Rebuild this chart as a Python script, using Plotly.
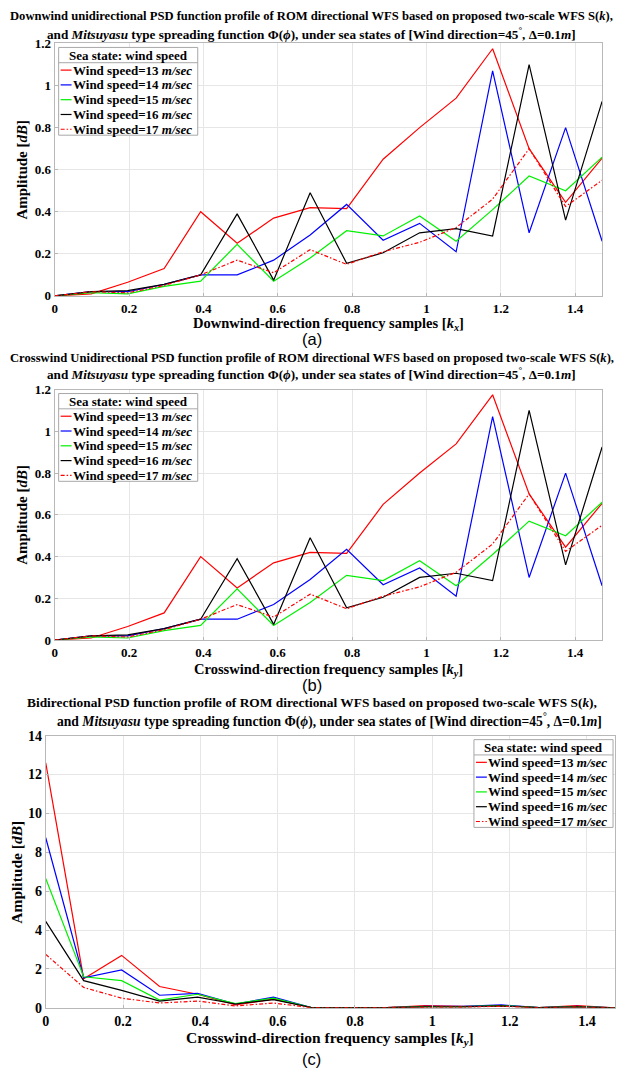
import numpy as np
import plotly.graph_objects as go

W, H = 619, 1077

# Frequency samples k = n*pi/32, n = 0..15
k = [n * np.pi / 32 for n in range(16)]

speeds = ["13", "14", "15", "16", "17"]
colors = ["#ff0000", "#0000ff", "#00f000", "#000000", "#ff0000"]
dashes = ["solid", "solid", "solid", "solid", "4px,2px,1.5px,2px"]

# Unidirectional PSD (downwind and crosswind profiles share the same values)
uni_13 = [0, 0.01, 0.065, 0.13, 0.40, 0.25, 0.37, 0.42, 0.415, 0.65, 0.80, 0.94, 1.175, 0.70, 0.445, 0.655]
uni_14 = [0, 0.02, 0.02, 0.055, 0.10, 0.10, 0.17, 0.29, 0.435, 0.265, 0.345, 0.21, 1.07, 0.30, 0.80, 0.26]
uni_15 = [0, 0.015, 0.01, 0.045, 0.07, 0.245, 0.07, 0.18, 0.31, 0.285, 0.38, 0.26, 0.41, 0.57, 0.50, 0.66]
uni_16 = [0, 0.02, 0.025, 0.055, 0.10, 0.39, 0.075, 0.49, 0.155, 0.205, 0.30, 0.32, 0.285, 1.10, 0.36, 0.925]
uni_17 = [0, 0.02, 0.015, 0.05, 0.10, 0.17, 0.11, 0.22, 0.15, 0.21, 0.255, 0.325, 0.46, 0.70, 0.425, 0.55]

# Bidirectional PSD
bi_13 = [12.6, 1.5, 2.7, 1.1, 0.7, 0.15, 0.45, 0.02, 0.02, 0.02, 0.12, 0.08, 0.12, 0.02, 0.12, 0.0]
bi_14 = [8.75, 1.55, 1.95, 0.65, 0.75, 0.2, 0.55, 0.02, 0.01, 0.01, 0.08, 0.08, 0.15, 0.02, 0.08, 0.0]
bi_15 = [6.65, 1.6, 1.4, 0.4, 0.7, 0.22, 0.5, 0.02, 0.01, 0.01, 0.06, 0.06, 0.12, 0.02, 0.06, 0.0]
bi_16 = [4.45, 1.4, 0.9, 0.35, 0.55, 0.2, 0.42, 0.02, 0.01, 0.01, 0.05, 0.05, 0.1, 0.01, 0.05, 0.0]
bi_17 = [2.75, 1.05, 0.5, 0.25, 0.35, 0.1, 0.25, 0.01, 0.01, 0.01, 0.04, 0.04, 0.08, 0.01, 0.04, 0.0]

uni = [uni_13, uni_14, uni_15, uni_16, uni_17]
bi = [bi_13, bi_14, bi_15, bi_16, bi_17]

SERIF = "Liberation Serif"
SANS = "Liberation Sans"
BOX_GRAY = "#a8a8a8"


def px_x(p):
    return p / W


def px_y(p):
    return 1 - p / H


# plot boxes in pixels: (left, right, top, bottom)
boxes = {
    "a": (51, 602, 37, 293),
    "b": (51, 602, 388, 642),
    "c": (42, 615, 739, 1015),
}

fig = go.Figure()

panels = [
    ("a", "x", "y", uni),
    ("b", "x2", "y2", uni),
    ("c", "x3", "y3", bi),
]
for tag, xa, ya, data in panels:
    for s, c, d, vals in zip(speeds, colors, dashes, data):
        fig.add_trace(go.Scatter(
            x=k, y=vals, mode="lines", xaxis=xa, yaxis=ya, showlegend=False,
            line=dict(color=c, width=1.2, dash=d),
            name=f"Wind speed={s} m/sec",
        ))

tick_sizes = {"a": 13, "b": 13, "c": 14}
yranges = {"a": [0, 1.2], "b": [0, 1.2], "c": [0, 14]}
ydticks = {"a": 0.2, "b": 0.2, "c": 2}
layout_axes = {}
for i, tag in enumerate(["a", "b", "c"]):
    l, r, t, b = boxes[tag]
    sfx = "" if i == 0 else str(i + 1)
    axis_common = dict(
        showgrid=True, gridcolor="#e6e6e6", gridwidth=1,
        showline=True, linecolor="#b8b8b8", linewidth=1, mirror=True,
        ticks="inside", ticklen=3, tickcolor="#b8b8b8",
        zeroline=False,
        tickfont=dict(family=SERIF, size=tick_sizes[tag], color="#000", weight="bold"),
    )
    layout_axes[f"xaxis{sfx}"] = dict(
        axis_common, domain=[px_x(l), px_x(r)], range=[0, k[-1]], dtick=0.2,
        anchor=f"y{sfx}",
    )
    layout_axes[f"yaxis{sfx}"] = dict(
        axis_common, domain=[px_y(b), px_y(t)], range=yranges[tag],
        dtick=ydticks[tag], anchor=f"x{sfx}",
    )

title1 = {
    "a": "<b>Downwind unidirectional PSD function profile of ROM directional WFS based on proposed two-scale WFS S(<i>k</i>),</b>",
    "b": "<b>Crosswind Unidirectional PSD function profile of ROM directional WFS based on proposed two-scale WFS S(<i>k</i>),</b>",
    "c": "<b>Bidirectional PSD function profile of ROM directional WFS based on proposed two-scale WFS S(<i>k</i>),</b>",
}
title2 = ("<b>and <i>Mitsuyasu</i> type spreading function \u03a6(<i>\u03d5</i>), under sea states of "
          "[Wind direction=45<sup>\u00b0</sup>, \u0394=0.1<i>m</i>]</b>")
xtitles = {
    "a": "<b>Downwind-direction frequency samples [<i>k</i><sub><i>x</i></sub>]</b>",
    "b": "<b>Crosswind-direction frequency samples [<i>k</i><sub><i>y</i></sub>]</b>",
    "c": "<b>Crosswind-direction frequency samples [<i>k</i><sub><i>y</i></sub>]</b>",
}
# pixel anchors for texts: title line1, title line2, x title, panel label
text_rows = {
    "a": (9, 27, 321, 337),
    "b": (356, 372, 672, 688),
    "c": (705, 724, 1046, 1067),
}
title1_sizes = {"a": 12.6, "b": 12.6, "c": 13.4}
title2_sizes = {"a": 13.2, "b": 13.2, "c": 13.6}
title2_cx = {"a": 309.5, "b": 309.5, "c": 328}
xtitle_sizes = {"a": 14.5, "b": 14.5, "c": 15.5}
ytitle_x = {"a": 18, "b": 18, "c": 13}
ytitle_sizes = {"a": 15, "b": 15, "c": 15.5}

ann = []
shapes = []
for tag in ["a", "b", "c"]:
    l, r, t, b = boxes[tag]
    y1, y2, yx, yl = text_rows[tag]
    ann.append(dict(text=title1[tag], x=0.5, y=px_y(y1), xref="paper", yref="paper",
                    showarrow=False, xanchor="center", yanchor="middle",
                    font=dict(family=SERIF, size=title1_sizes[tag], color="#000")))
    ann.append(dict(text=title2, x=px_x(title2_cx[tag]), y=px_y(y2), xref="paper", yref="paper",
                    showarrow=False, xanchor="center", yanchor="middle",
                    font=dict(family=SERIF, size=title2_sizes[tag], color="#000")))
    ann.append(dict(text=xtitles[tag], x=px_x((l + r) / 2), y=px_y(yx), xref="paper", yref="paper",
                    showarrow=False, xanchor="center", yanchor="middle",
                    font=dict(family=SERIF, size=xtitle_sizes[tag], color="#000")))
    ann.append(dict(text=f"({tag})", x=0.5, y=px_y(yl), xref="paper", yref="paper",
                    showarrow=False, xanchor="center", yanchor="middle",
                    font=dict(family=SANS, size=16.5, color="#000")))
    ann.append(dict(text="<b>Amplitude [<i>dB</i>]</b>", x=px_x(ytitle_x[tag]),
                    y=px_y((t + b) / 2), xref="paper", yref="paper", textangle=-90,
                    showarrow=False, xanchor="center", yanchor="middle",
                    font=dict(family=SERIF, size=ytitle_sizes[tag], color="#000")))


# Boxed legend with a title row, drawn from shapes and annotations
def add_legend(left, top, width=140, row=15.0):
    height = 23 + row * 4 + 6
    shapes.append(dict(type="rect", xref="paper", yref="paper",
                       x0=px_x(left), x1=px_x(left + width), y0=px_y(top), y1=px_y(top + height),
                       line=dict(color=BOX_GRAY, width=1), fillcolor="white", layer="above"))
    shapes.append(dict(type="line", xref="paper", yref="paper",
                       x0=px_x(left), x1=px_x(left + width), y0=px_y(top + 15.5), y1=px_y(top + 15.5),
                       line=dict(color=BOX_GRAY, width=1), layer="above"))
    ann.append(dict(text="<b>Sea state: wind speed</b>", x=px_x(left + width / 2), y=px_y(top + 8),
                    xref="paper", yref="paper", showarrow=False, xanchor="center", yanchor="middle",
                    font=dict(family=SERIF, size=13, color="#000")))
    for j, (s, c, d) in enumerate(zip(speeds, colors, dashes)):
        yy = top + 23 + j * row
        shapes.append(dict(type="line", xref="paper", yref="paper",
                           x0=px_x(left + 2), x1=px_x(left + 13), y0=px_y(yy), y1=px_y(yy),
                           line=dict(color=c, width=1.2, dash=d), layer="above"))
        ann.append(dict(text=f"<b>Wind speed={s} <i>m/sec</i></b>", x=px_x(left + 12), y=px_y(yy),
                        xref="paper", yref="paper", showarrow=False, xanchor="left", yanchor="middle",
                        font=dict(family=SERIF, size=13, color="#000")))


add_legend(55, 41)
add_legend(55, 392)
add_legend(473, 743)

fig.update_layout(
    width=W, height=H,
    margin=dict(l=0, r=0, t=0, b=0),
    paper_bgcolor="white", plot_bgcolor="white",
    showlegend=False,
    annotations=ann,
    shapes=shapes,
    **layout_axes,
)

fig.write_html("out.html")
